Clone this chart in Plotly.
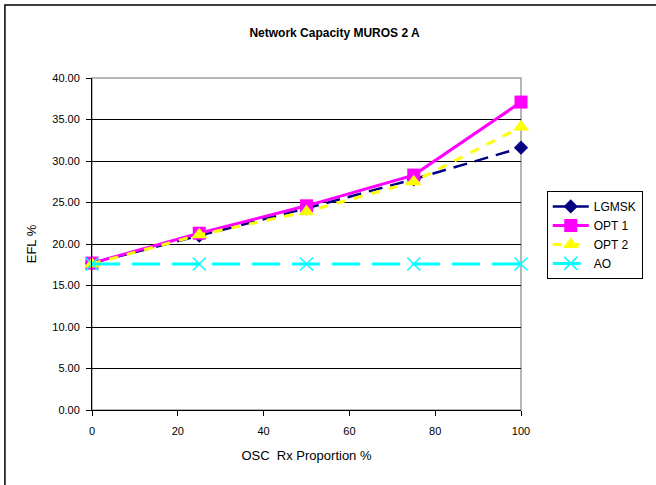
import plotly.graph_objs as go

osc = [0, 25, 50, 75, 100]
lgmsk = [17.7, 21.0, 24.3, 27.8, 31.6]
opt1 = [17.7, 21.3, 24.6, 28.3, 37.1]
opt2 = [17.6, 21.1, 23.9, 27.5, 34.1]
ao = [17.6, 17.6, 17.6, 17.6, 17.6]

font = 'Liberation Sans, Arial, sans-serif'

trace1 = go.Scatter(
    x=osc, y=lgmsk, name='LGMSK', mode='lines+markers', cliponaxis=False,
    line=dict(color='#000080', width=2.5, dash='14px,8px'),
    marker=dict(symbol='diamond', size=11, color='#000080')
)
trace2 = go.Scatter(
    x=osc, y=opt1, name='OPT 1', mode='lines+markers', cliponaxis=False,
    line=dict(color='#FF00FF', width=3),
    marker=dict(symbol='square', size=13, color='#FF00FF')
)
trace3 = go.Scatter(
    x=osc, y=opt2, name='OPT 2', mode='lines+markers', cliponaxis=False,
    line=dict(color='#FFFF00', width=3, dash='9px,9px'),
    marker=dict(symbol='triangle-up', size=14, color='#FFFF00')
)
trace4 = go.Scatter(
    x=osc, y=ao, name='AO', mode='lines+markers', cliponaxis=False,
    line=dict(color='#00FFFF', width=3, dash='28px,12px'),
    marker=dict(symbol='x-thin', size=13, color='#00FFFF',
                line=dict(color='#00FFFF', width=1.5))
)

data = [trace1, trace2, trace3, trace4]

layout = go.Layout(
    width=656, height=485,
    margin=dict(l=92, r=135, t=78, b=75),
    paper_bgcolor='white', plot_bgcolor='white',
    font=dict(family=font, size=11, color='black'),
    title=dict(text='<b>Network Capacity MUROS 2 A</b>', x=0.51, xref='container',
               y=0.942, yref='container', font=dict(size=12), automargin=False),
    showlegend=True,
    legend=dict(x=1.06, y=0.66, xanchor='left', yanchor='top',
                bordercolor='black', borderwidth=1, bgcolor='white',
                font=dict(size=12), tracegroupgap=0, itemwidth=36),
    xaxis=dict(range=[0, 100], tickvals=[0, 20, 40, 60, 80, 100],
               ticks='outside', ticklen=5, tickcolor='black', automargin=False,
               ticklabelstandoff=6,
               showline=True, linecolor='black', showgrid=False, zeroline=False,
               title=dict(text='OSC  Rx Proportion %', standoff=14)),
    yaxis=dict(range=[0, 40], dtick=5, tickformat='.2f', automargin=False,
               ticks='outside', ticklen=5, tickcolor='black',
               ticklabelstandoff=4,
               showline=True, linecolor='black', showgrid=True, gridcolor='black',
               gridwidth=1, zeroline=False,
               title=dict(text='EFL %', standoff=12)),
    shapes=[
        dict(type='rect', xref='paper', yref='paper', x0=0, x1=1, y0=0, y1=1,
             line=dict(color='#A0A0A0', width=1.5), layer='below'),
        dict(type='rect', xref='paper', yref='paper', x0=-0.203, x1=1.4, y0=-0.3, y1=1.22,
             line=dict(color='black', width=1.5)),
    ]
)

fig = go.Figure(data=data, layout=layout)
fig.write_html('out.html', config={'displayModeBar': False},
               post_script="document.body.style.margin='0';")
